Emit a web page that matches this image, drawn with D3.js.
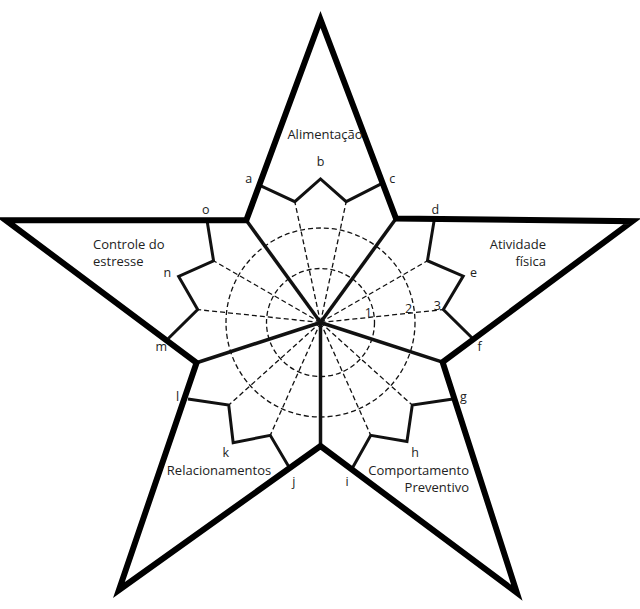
<!DOCTYPE html>
<html><head><meta charset="utf-8">
<script src="https://cdn.jsdelivr.net/npm/d3@7"></script>
<style>body{margin:0;background:#fff}svg{display:block}</style>
</head><body>
<svg id="c" width="640" height="609"></svg>
<script>
// ---- data ----
const sectors = ["Alimentação", "Atividade física", "Comportamento Preventivo", "Relacionamentos", "Controle do estresse"];
const items = ["a","b","c","d","e","f","g","h","i","j","k","l","m","n","o"];
// tip level of each item (outer items of a sector reach the star frame)
const itemTip = [4, 3.68, 4, 4, 3.9, 4, 4, 3.8, 4, 4, 3.85, 4, 4, 3.87, 4];
// level of the two inner boundaries of every sector
const boundaryLevel = [3, 3, 3, 3, 3, 3, 3, 3, 3, 3];
const circleLevels = [1, 2];
const tickLabels = ["1", "2", "3"];

// ---- layout ----
const W = 640, H = 609, cx = 320.5, cy = 322.5;
const DEG = Math.PI / 180;
const r = d3.scaleLinear().domain([0, 1, 2, 3, 4]).range([0, 54, 94.5, 123.5, 153]);
const ang = d3.scaleLinear().domain([0, 15]).range([-24 * DEG, 336 * DEG]);
const tipR = [303, 328, 334, 335, 331];
const tipA = [0, 72, 144, 217, 288];
const innerR = [128.5, 128.4, 123.5, 130.3, 126.3];

const svg = d3.select("#c");
const g = svg.append("g").attr("transform", `translate(${cx},${cy})`);
const P = (a, rad) => d3.pointRadial(a, rad);

// star polygon
const star = [];
for (let k = 0; k < 5; k++) {
  star.push(P(tipA[k] * DEG, tipR[k]));
  star.push(P((k * 72 + 36) * DEG, innerR[k]));
}
function edgeDist(a) {
  const dx = Math.sin(a), dy = -Math.cos(a);
  let best = Infinity;
  for (let i = 0; i < star.length; i++) {
    const p = star[i], q = star[(i + 1) % star.length];
    const ex = q[0] - p[0], ey = q[1] - p[1];
    const den = dx * ey - dy * ex;
    if (Math.abs(den) < 1e-9) continue;
    const t = (p[0] * ey - p[1] * ex) / den;
    const s = (p[0] * dy - p[1] * dx) / den;
    if (t > 0 && s >= 0 && s <= 1) best = Math.min(best, t);
  }
  return best;
}

// dashed circles
g.selectAll("circle.lv").data(circleLevels).join("circle")
  .attr("r", d => r(d)).attr("fill", "none")
  .attr("stroke", "#111").attr("stroke-width", 1.3).attr("stroke-dasharray", "5,3");

// dashed spokes (inner boundaries)
const bnd = [];
sectors.forEach((s, k) => {
  [0, 1].forEach(j => bnd.push({ a: ang(k * 3 + j + 0.5), lv: boundaryLevel[k * 2 + j] }));
});
g.selectAll("line.ds").data(bnd).join("line")
  .attr("x1", 0).attr("y1", 0)
  .attr("x2", d => P(d.a, r(d.lv))[0]).attr("y2", d => P(d.a, r(d.lv))[1])
  .attr("stroke", "#111").attr("stroke-width", 1.3).attr("stroke-dasharray", "5,3");

// solid sector spokes
g.selectAll("line.ss").data(sectors).join("line")
  .attr("x1", 0).attr("y1", 0)
  .attr("x2", (d, k) => P(ang(k * 3 + 2.5), innerR[k])[0])
  .attr("y2", (d, k) => P(ang(k * 3 + 2.5), innerR[k])[1])
  .attr("stroke", "#111").attr("stroke-width", 3.5);

// item outline per sector
const tipPt = i => { const a = ang(i); return P(a, Math.min(r(itemTip[i]), edgeDist(a))); };
const line = d3.line();
g.selectAll("path.it").data(sectors).join("path")
  .attr("d", (s, k) => {
    const pts = [];
    for (let j = 0; j < 3; j++) {
      pts.push(tipPt(k * 3 + j));
      if (j < 2) pts.push(P(ang(k * 3 + j + 0.5), r(boundaryLevel[k * 2 + j])));
    }
    return line(pts);
  })
  .attr("fill", "none").attr("stroke", "#111").attr("stroke-width", 3).attr("stroke-linejoin", "miter");

// star frame
g.append("path").attr("d", d3.line()(star) + "Z")
  .attr("fill", "none").attr("stroke", "#000").attr("stroke-width", 6).attr("stroke-linejoin", "miter");

const font = "'Open Sans', sans-serif";
// item letters
g.selectAll("text.il").data(items).join("text")
  .attr("transform", (d, i) => {
    const off = [-2.5, 0, 2.5][i % 3] * DEG;
    const p = P(ang(i) + off, 161);
    return `translate(${p[0]},${p[1]})`;
  })
  .attr("text-anchor", "middle").attr("dy", "0.35em")
  .style("font-family", font).style("font-size", "12.5px").attr("fill", "#222")
  .text(d => d);

// level numbers on the spoke between e and f
const la = ang(4.5);
g.selectAll("text.tk").data(tickLabels).join("text")
  .attr("transform", (d, i) => { const p = P(la, r(i + 1) - 6); return `translate(${p[0]},${p[1] - 5})`; })
  .attr("text-anchor", "middle").attr("dy", "0.35em")
  .style("font-family", font).style("font-size", "12.5px").attr("fill", "#222")
  .text(d => d);

// sector names
const nameLayout = [
  { x: 325 - cx, y: 134 - cy, anchor: "middle", lines: 1 },
  { x: 546 - cx, y: 244 - cy, anchor: "end", lines: 2 },
  { x: 469 - cx, y: 470 - cy, anchor: "end", lines: 2 },
  { x: 219 - cx, y: 470 - cy, anchor: "middle", lines: 1 },
  { x: 93 - cx, y: 244 - cy, anchor: "start", lines: 2 }
];
sectors.forEach((s, k) => {
  const L = nameLayout[k];
  const words = s.split(" ");
  const lines = L.lines === 1 ? [s] : [words.slice(0, words.length - 1).join(" "), words[words.length - 1]];
  const t = g.append("text").attr("text-anchor", L.anchor)
    .style("font-family", font).style("font-size", "13px").attr("fill", "#222");
  lines.forEach((ln, j) => t.append("tspan").attr("x", L.x).attr("y", L.y + j * 17.5).attr("dy", "0.35em").text(ln));
});
</script>
</body></html>
